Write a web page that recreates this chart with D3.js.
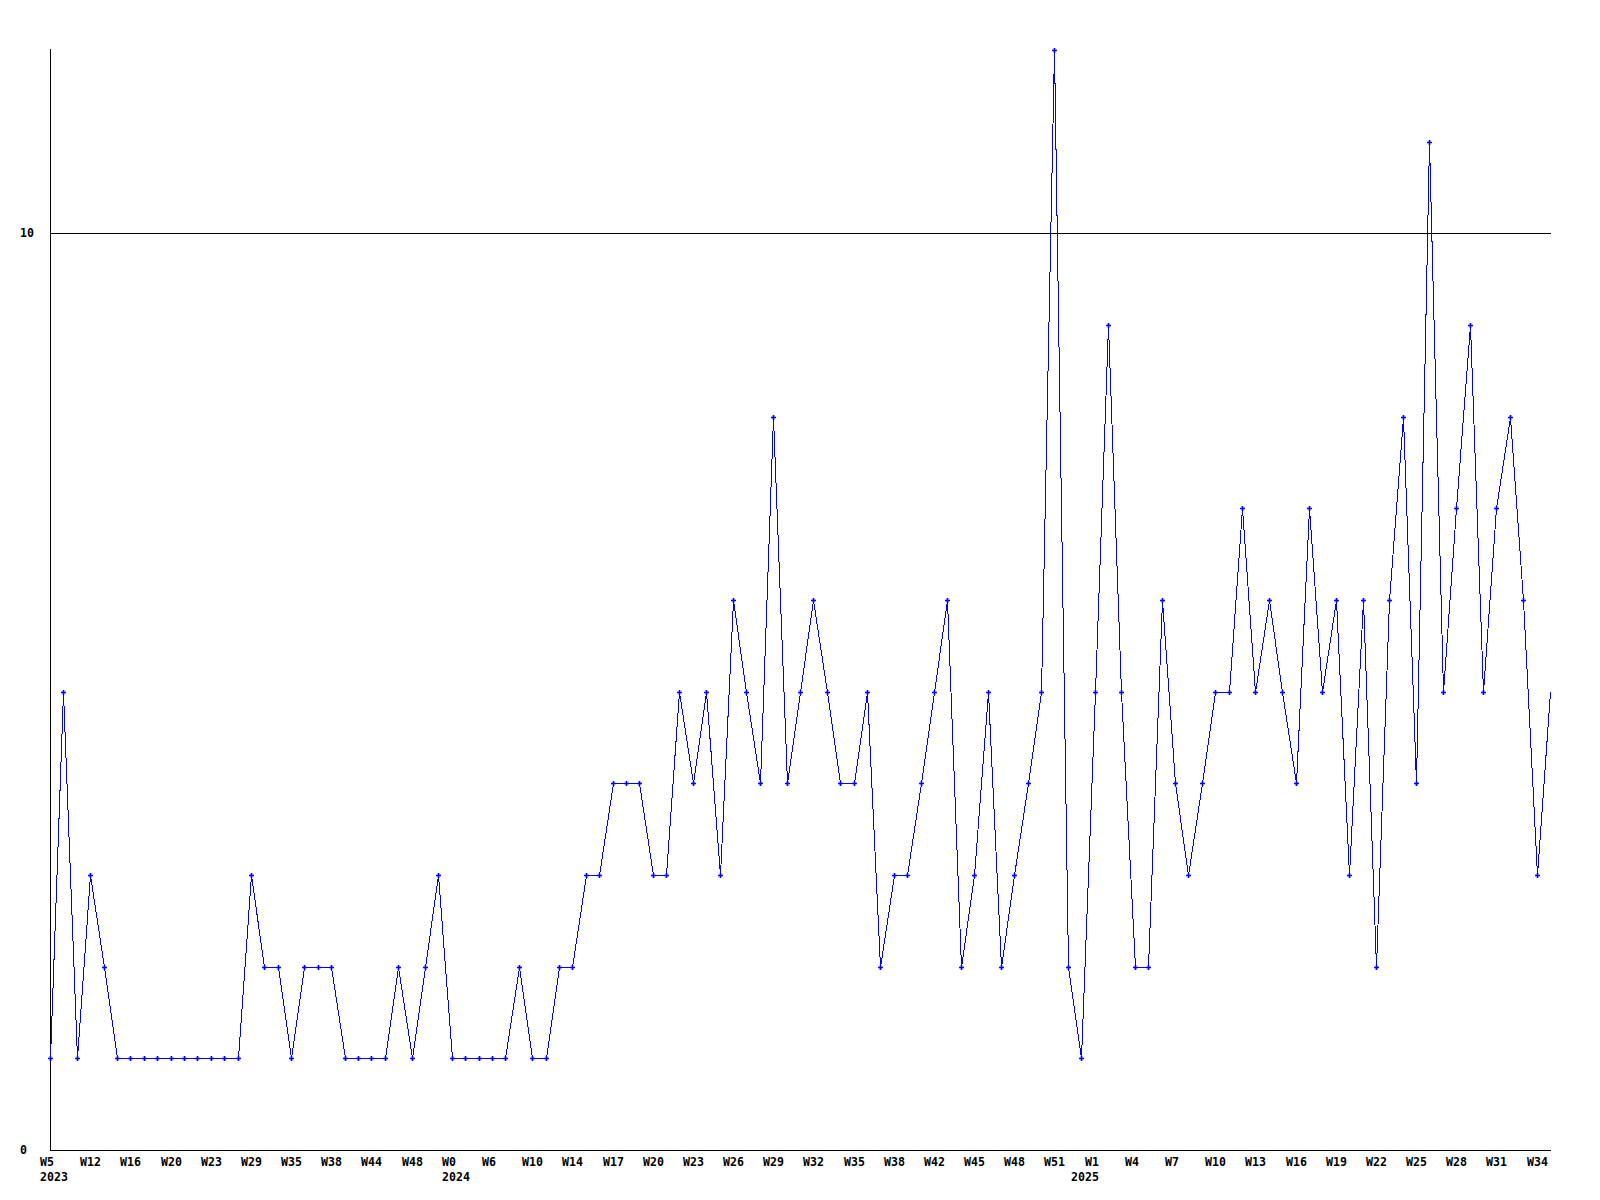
<!DOCTYPE html>
<html>
<head>
<meta charset="utf-8">
<script src="https://cdn.jsdelivr.net/npm/d3@7"></script>
<style>
  html, body { margin: 0; padding: 0; background: #ffffff; }
  svg { display: block; }
  text { font-family: "DejaVu Sans Mono", "Liberation Mono", monospace; font-weight: bold; font-size: 11.6px; fill: #000; }
</style>
</head>
<body>
<script>
// Weekly counts, one per point (2023 W5 .. 2025 W35)
const values = [
  1, 5, 1, 3, 2, 1, 1, 1, 1, 1,
  1, 1, 1, 1, 1, 3, 2, 2, 1, 2,
  2, 2, 1, 1, 1, 1, 2, 1, 2, 3,
  1, 1, 1, 1, 1, 2, 1, 1, 2, 2,
  3, 3, 4, 4, 4, 3, 3, 5, 4, 5,
  3, 6, 5, 4, 8, 4, 5, 6, 5, 4,
  4, 5, 2, 3, 3, 4, 5, 6, 2, 3,
  5, 2, 3, 4, 5, 12, 2, 1, 5, 9,
  5, 2, 2, 6, 4, 3, 4, 5, 5, 7,
  5, 6, 5, 4, 7, 5, 6, 3, 6, 2,
  6, 8, 4, 11, 5, 7, 9, 5, 7, 8,
  6, 3, 5
];

// Week tick labels, one on every third point
const tickLabels = [
  "W5", "W12", "W16", "W20", "W23", "W29", "W35", "W38", "W44", "W48",
  "W0", "W6", "W10", "W14", "W17", "W20", "W23", "W26", "W29", "W32",
  "W35", "W38", "W42", "W45", "W48", "W51",
  "W1", "W4", "W7", "W10", "W13", "W16", "W19", "W22", "W25", "W28",
  "W31", "W34"
];
const tickStep = 3;

// Year labels and the point index where each year starts
const yearLabels = ["2023", "2024", "2025"];
const yearStartIndex = [0, 30, 77];

// Y axis
const yTickValues = [0, 10];
const yMax = 12;

(function () {
  const W = 1600, H = 1200;
  const mLeft = 50, mRight = 1550, mTop = 50, mBottom = 1150;

  const svg = d3.select("body").append("svg")
    .attr("width", W).attr("height", H);

  svg.append("rect").attr("width", W).attr("height", H).attr("fill", "#fff");

  const x = d3.scaleLinear().domain([0, values.length - 1]).range([mLeft, mRight]);
  const y = d3.scaleLinear().domain([0, yMax]).range([mBottom, mTop]);

  const g = svg.append("g").attr("shape-rendering", "crispEdges");

  // Horizontal grid line at 10
  g.selectAll("line.grid")
    .data(yTickValues.filter(v => v !== 0))
    .join("line")
    .attr("class", "grid")
    .attr("x1", mLeft).attr("x2", mRight + 1)
    .attr("y1", d => Math.round(y(d)) + 0.5).attr("y2", d => Math.round(y(d)) + 0.5)
    .attr("stroke", "#000").attr("stroke-width", 1);

  // Y axis line
  g.append("line")
    .attr("x1", mLeft + 0.5).attr("x2", mLeft + 0.5)
    .attr("y1", mTop - 1).attr("y2", mBottom + 0.5)
    .attr("stroke", "#000").attr("stroke-width", 1);

  // X axis line
  g.append("line")
    .attr("x1", mLeft).attr("x2", mRight + 1)
    .attr("y1", mBottom + 0.5).attr("y2", mBottom + 0.5)
    .attr("stroke", "#000").attr("stroke-width", 1);

  // Y tick labels
  svg.selectAll("text.ylab")
    .data(yTickValues)
    .join("text")
    .attr("class", "ylab")
    .attr("x", 20)
    .attr("y", d => y(d) + 4)
    .text(d => d);

  // X tick labels
  svg.selectAll("text.xlab")
    .data(tickLabels)
    .join("text")
    .attr("class", "xlab")
    .attr("x", (d, i) => Math.round(x(i * tickStep)) - 10)
    .attr("y", mBottom + 16)
    .text(d => d);

  // Year labels
  svg.selectAll("text.year")
    .data(yearLabels)
    .join("text")
    .attr("class", "year")
    .attr("x", (d, i) => Math.round(x(yearStartIndex[i])) - 10)
    .attr("y", mBottom + 31)
    .text(d => d);

  // Data line
  const line = d3.line()
    .x((d, i) => Math.round(x(i)) + 0.5)
    .y(d => Math.round(y(d)) + 0.5);

  svg.append("path")
    .datum(values)
    .attr("d", line)
    .attr("fill", "none")
    .attr("stroke", "#0000ff")
    .attr("stroke-width", 1)
    .attr("shape-rendering", "crispEdges");

  // Point markers (none at the last point, as in the original)
  const marker = d3.symbol().type(d3.symbolCross).size(14);
  svg.selectAll("path.pt")
    .data(values.slice(0, -1))
    .join("path")
    .attr("class", "pt")
    .attr("transform", (d, i) => `translate(${Math.round(x(i)) + 0.5},${Math.round(y(d)) + 0.5})`)
    .attr("d", marker)
    .attr("fill", "#0000ff");
})();
</script>
</body>
</html>
